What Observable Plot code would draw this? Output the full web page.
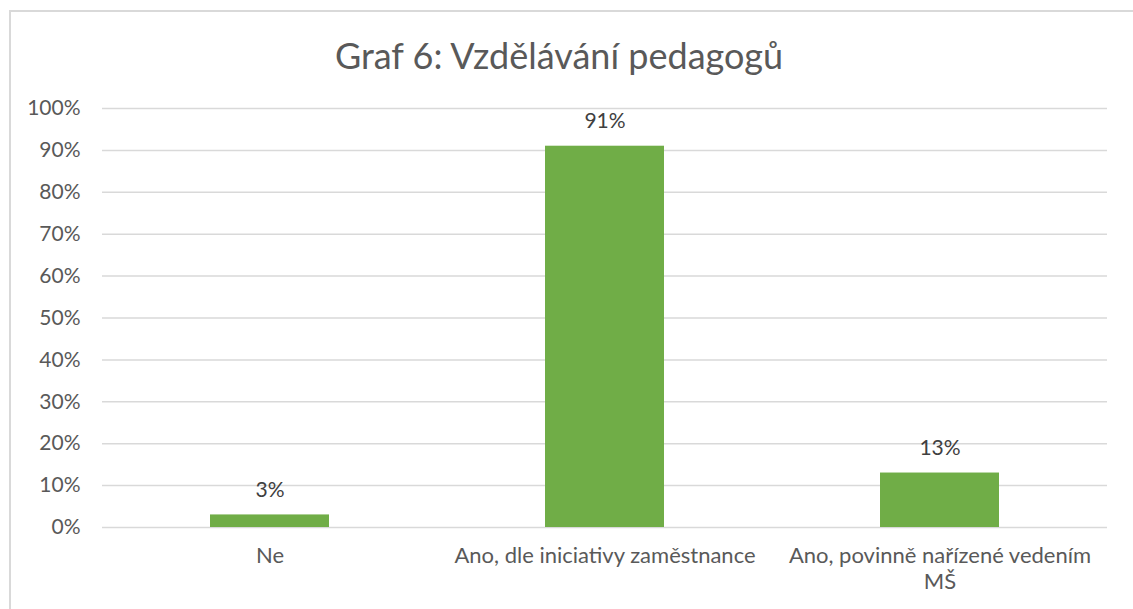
<!DOCTYPE html>
<html>
<head>
<meta charset="utf-8">
<script src="https://cdn.jsdelivr.net/npm/d3@7"></script>
<script src="https://cdn.jsdelivr.net/npm/@observablehq/plot@0.6"></script>
<style>
  html, body { margin: 0; padding: 0; background: #fff; width: 1133px; height: 609px; overflow: hidden; }
  #frame { position: absolute; left: 9px; top: 10px; width: 1200px; height: 700px; border-left: 2px solid #d9d9d9; border-top: 2px solid #d9d9d9; box-sizing: border-box; }
  #title { position: absolute; left: 0; width: 1118px; top: 32px; text-align: center; font-family: Lato, "Open Sans", sans-serif; font-size: 36px; color: #595959; line-height: 46px; }
  #chart { position: absolute; left: 0; top: 90px; }
  #chart svg { font-family: Lato, "Open Sans", sans-serif; }
</style>
</head>
<body>
<div id="frame"></div>
<div id="title">Graf 6: Vzdělávání pedagogů</div>
<div id="chart"></div>
<script>
const categories = ["Ne", "Ano, dle iniciativy zaměstnance", "Ano, povinně nařízené vedením MŠ"];
const values = [0.03, 0.91, 0.13];
const tickLabels = ["Ne", "Ano, dle iniciativy zaměstnance", "Ano, povinně nařízené vedením\nMŠ"];
const yTicks = [0, 0.1, 0.2, 0.3, 0.4, 0.5, 0.6, 0.7, 0.8, 0.9, 1.0];

const data = categories.map((c, i) => ({category: c, value: values[i]}));

const chart = Plot.plot({
  width: 1133,
  height: 519,
  marginLeft: 102,
  marginRight: 26,
  marginTop: 18,
  marginBottom: 82,
  style: {fontFamily: "Lato, 'Open Sans', sans-serif", fontSize: "21px", color: "#595959", background: "transparent"},
  x: {domain: categories, paddingInner: 0.645, paddingOuter: 0.3225, label: null},
  y: {domain: [0, 1], label: null},
  marks: [
    Plot.gridY(yTicks, {stroke: "#d9d9d9", strokeOpacity: 1, strokeWidth: 1.5}),
    Plot.axisY({ticks: yTicks, tickFormat: d => Math.round(d * 100) + "%", tickSize: 0, tickPadding: 22, fontSize: 21, fill: "#595959", label: null}),
    Plot.axisX({tickSize: 0, tickPadding: 18, fontSize: 22, fill: "#595959", label: null, tickFormat: d => tickLabels[categories.indexOf(d)], lineHeight: 1.15}),
    Plot.barY(data, {x: "category", y: "value", fill: "#70AD47"}),
    Plot.text(data, {x: "category", y: "value", text: d => Math.round(d.value * 100) + "%", dy: -25, fontSize: 21, fill: "#404040"})
  ]
});
document.getElementById("chart").appendChild(chart);
</script>
</body>
</html>
